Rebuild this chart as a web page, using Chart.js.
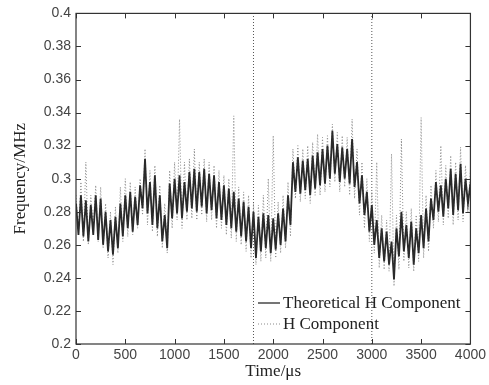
<!DOCTYPE html>
<html>
<head>
<meta charset="utf-8">
<script src="https://cdn.jsdelivr.net/npm/chart.js@4/dist/chart.umd.min.js"></script>
<style>
html,body{margin:0;padding:0;background:#fff;}
#wrap{width:489px;height:385px;}
</style>
</head>
<body>
<div id="wrap"><canvas id="c" width="489" height="385"></canvas></div>
<script>
// sampling interval of both series, µs
const STEP = 25;
const seriesNames = ["Theoretical H Component", "H Component"];
const xTicks = [0, 500, 1000, 1500, 2000, 2500, 3000, 3500, 4000];
const yTicks = [0.2, 0.22, 0.24, 0.26, 0.28, 0.3, 0.32, 0.34, 0.36, 0.38, 0.4];
const markerTimes = [1800, 3000];

// Theoretical H component, t = 0 .. 4000 µs every 25 µs
const theoretical = [
0.285,0.266,0.290,0.265,0.287,0.262,0.284,0.266,0.290,0.263,0.288,0.260,0.280,0.256,0.275,0.254,
0.277,0.258,0.285,0.265,0.290,0.270,0.292,0.268,0.289,0.272,0.296,0.282,0.312,0.279,0.298,0.272,
0.302,0.270,0.290,0.262,0.278,0.258,0.297,0.276,0.300,0.279,0.302,0.276,0.298,0.280,0.304,0.282,
0.306,0.280,0.304,0.283,0.306,0.279,0.303,0.281,0.302,0.276,0.298,0.275,0.296,0.272,0.294,0.270,
0.292,0.268,0.288,0.265,0.286,0.262,0.283,0.258,0.280,0.252,0.277,0.256,0.279,0.258,0.278,0.255,
0.276,0.257,0.279,0.260,0.282,0.262,0.290,0.272,0.310,0.292,0.313,0.291,0.311,0.293,0.312,0.290,
0.314,0.294,0.316,0.296,0.318,0.297,0.320,0.300,0.329,0.303,0.321,0.298,0.319,0.300,0.318,0.297,
0.324,0.295,0.310,0.285,0.302,0.278,0.292,0.268,0.284,0.260,0.275,0.252,0.270,0.250,0.268,0.248,
0.262,0.239,0.270,0.253,0.280,0.256,0.272,0.252,0.274,0.248,0.270,0.255,0.278,0.258,0.282,0.262,
0.288,0.275,0.298,0.280,0.296,0.277,0.300,0.282,0.306,0.278,0.303,0.281,0.309,0.279,0.300,0.285,
0.297
];

// Measured H component, t = 0 .. 4000 µs every 25 µs
const measured = [
0.290,0.268,0.298,0.262,0.310,0.260,0.290,0.270,0.296,0.262,0.295,0.258,0.285,0.252,0.280,0.248,
0.283,0.255,0.295,0.262,0.300,0.265,0.298,0.266,0.295,0.270,0.300,0.278,0.318,0.272,0.305,0.268,
0.308,0.265,0.296,0.258,0.285,0.255,0.305,0.270,0.310,0.275,0.336,0.270,0.310,0.275,0.312,0.276,
0.318,0.275,0.310,0.278,0.312,0.274,0.310,0.275,0.308,0.270,0.305,0.270,0.302,0.266,0.300,0.264,
0.338,0.262,0.295,0.260,0.292,0.256,0.290,0.252,0.285,0.248,0.284,0.250,0.290,0.252,0.300,0.250,
0.326,0.252,0.286,0.255,0.290,0.258,0.298,0.265,0.318,0.288,0.320,0.286,0.318,0.288,0.320,0.285,
0.322,0.290,0.327,0.290,0.325,0.292,0.326,0.295,0.333,0.298,0.328,0.292,0.326,0.295,0.325,0.290,
0.336,0.288,0.318,0.278,0.310,0.270,0.300,0.262,0.292,0.255,0.310,0.246,0.278,0.245,0.275,0.244,
0.315,0.235,0.278,0.245,0.324,0.250,0.280,0.246,0.282,0.244,0.278,0.250,0.337,0.252,0.290,0.256,
0.296,0.270,0.305,0.274,0.320,0.272,0.308,0.276,0.314,0.272,0.310,0.275,0.319,0.274,0.308,0.280,
0.305
];

const toPts = arr => arr.map((v, i) => ({x: i * STEP, y: v}));

const PL = {left: 76, right: 473, top: 12, bottom: 344};

const framePlugin = {
  id: 'frame',
  afterDatasetsDraw(chart) {
    const ctx = chart.ctx, a = chart.chartArea;
    const xs = chart.scales.x, ys = chart.scales.y;
    ctx.save();
    ctx.strokeStyle = '#333';
    ctx.lineWidth = 1.2;
    ctx.strokeRect(a.left, a.top, a.right - a.left, a.bottom - a.top);
    ctx.lineWidth = 1;
    ctx.beginPath();
    xTicks.forEach(t => {
      const px = Math.round(xs.getPixelForValue(t)) + 0.5;
      ctx.moveTo(px, a.bottom); ctx.lineTo(px, a.bottom - 5);
      ctx.moveTo(px, a.top); ctx.lineTo(px, a.top + 5);
    });
    yTicks.forEach(t => {
      const py = Math.round(ys.getPixelForValue(t)) + 0.5;
      ctx.moveTo(a.left, py); ctx.lineTo(a.left + 5, py);
      ctx.moveTo(a.right, py); ctx.lineTo(a.right - 5, py);
    });
    ctx.stroke();
    // legend
    const lx1 = 258, lx2 = 280, tx = 283;
    const rows = [{y: 303, ds: chart.data.datasets[1]}, {y: 324, ds: chart.data.datasets[0]}];
    ctx.font = '17px "Liberation Serif", "Times New Roman", serif';
    ctx.textBaseline = 'middle';
    ctx.textAlign = 'left';
    rows.forEach(r => {
      ctx.strokeStyle = r.ds.borderColor;
      ctx.lineWidth = Math.min(r.ds.borderWidth, 1.3);
      ctx.setLineDash(r.ds.borderDash || []);
      ctx.beginPath(); ctx.moveTo(lx1, r.y); ctx.lineTo(lx2, r.y); ctx.stroke();
      ctx.setLineDash([]);
      ctx.fillStyle = '#222';
      ctx.fillText(r.ds.label, tx, r.y + 1);
    });
    ctx.restore();
  }
};

const markerSets = markerTimes.map(t => ({
  label: '_marker',
  data: [{x: t, y: yTicks[0]}, {x: t, y: yTicks[yTicks.length - 1]}],
  borderColor: '#555',
  borderWidth: 1,
  borderDash: [1, 2],
  pointRadius: 0,
  order: 3
}));

new Chart(document.getElementById('c'), {
  type: 'line',
  data: {
    datasets: [
      {
        label: seriesNames[1],
        data: toPts(measured),
        borderColor: '#8a8a8a',
        borderWidth: 1,
        borderDash: [1, 2],
        pointRadius: 0,
        tension: 0,
        order: 2
      },
      {
        label: seriesNames[0],
        data: toPts(theoretical),
        borderColor: '#2a2a2a',
        borderWidth: 1.8,
        pointRadius: 0,
        tension: 0,
        order: 1
      },
      ...markerSets
    ]
  },
  options: {
    responsive: false,
    animation: false,
    events: [],
    layout: {padding: {left: 0, right: 489 - PL.right, top: PL.top, bottom: 0}},
    plugins: {legend: {display: false}, tooltip: {enabled: false}},
    scales: {
      x: {
        type: 'linear',
        min: 0, max: 4000,
        afterBuildTicks: s => { s.ticks = xTicks.map(v => ({value: v})); },
        afterFit: s => { s.height = 385 - PL.bottom; },
        grid: {display: false, drawTicks: false},
        border: {display: false},
        ticks: {
          padding: 3,
          color: '#444',
          font: {family: '"Liberation Sans", Arial, sans-serif', size: 14},
          maxRotation: 0,
          callback: v => String(v)
        },
        title: {
          display: true,
          text: 'Time/\u03bcs',
          color: '#222',
          font: {family: '"Liberation Serif", "Times New Roman", serif', size: 17},
          padding: {top: 0, bottom: 3}
        }
      },
      y: {
        type: 'linear',
        min: 0.2, max: 0.4,
        afterBuildTicks: s => { s.ticks = yTicks.map(v => ({value: v})); },
        afterFit: s => { s.width = PL.left; },
        grid: {display: false, drawTicks: false},
        border: {display: false},
        ticks: {
          padding: 5,
          color: '#444',
          font: {family: '"Liberation Sans", Arial, sans-serif', size: 14},
          callback: v => String(Math.round(v * 100) / 100)
        },
        title: {
          display: true,
          text: 'Frequency/MHz',
          color: '#222',
          font: {family: '"Liberation Serif", "Times New Roman", serif', size: 17},
          padding: {top: 10, bottom: 0}
        }
      }
    }
  },
  plugins: [framePlugin]
});
</script>
</body>
</html>
